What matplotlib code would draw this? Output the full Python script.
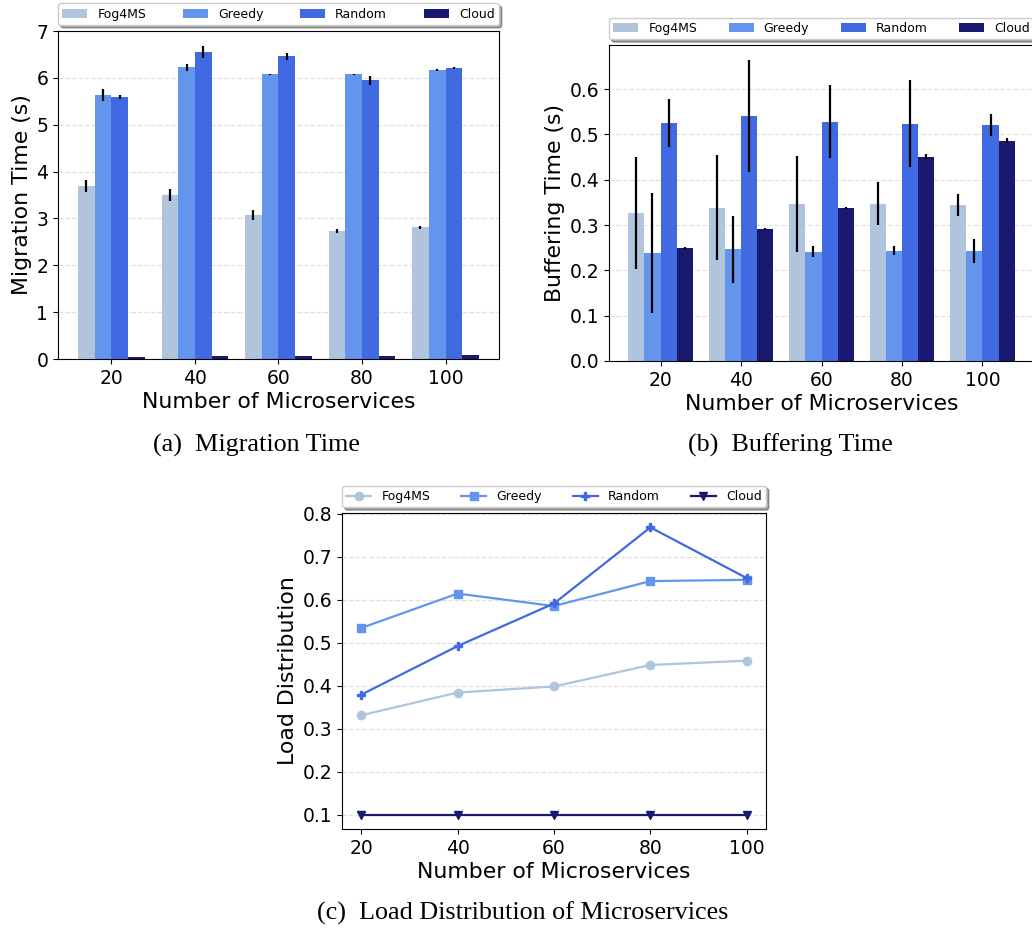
"""
Migration time, buffering time and load distribution for Fog4MS vs baselines
"""

import matplotlib.pyplot as plt
import numpy as np

plt.rcParams['font.family'] = ['DejaVu Sans']

# data
n_services = [20, 40, 60, 80, 100]
methods = ['Fog4MS', 'Greedy', 'Random', 'Cloud']
colors = ['lightsteelblue', 'cornflowerblue', 'royalblue', 'midnightblue']
markers = ['o', 's', 'P', 'v']

migration = {
    'Fog4MS': [3.69, 3.50, 3.07, 2.73, 2.81],
    'Greedy': [5.63, 6.23, 6.08, 6.08, 6.165],
    'Random': [5.59, 6.55, 6.46, 5.95, 6.21],
    'Cloud': [0.05, 0.07, 0.07, 0.07, 0.09],
}
migration_err = {
    'Fog4MS': [0.125, 0.12, 0.10, 0.045, 0.025],
    'Greedy': [0.13, 0.075, 0.01, 0.01, 0.025],
    'Random': [0.05, 0.12, 0.08, 0.10, 0.02],
    'Cloud': [0.0, 0.0, 0.0, 0.0, 0.0],
}

buffering = {
    'Fog4MS': [0.327, 0.338, 0.347, 0.347, 0.345],
    'Greedy': [0.239, 0.247, 0.241, 0.243, 0.243],
    'Random': [0.526, 0.541, 0.528, 0.524, 0.521],
    'Cloud': [0.250, 0.292, 0.338, 0.451, 0.486],
}
buffering_err = {
    'Fog4MS': [0.123, 0.116, 0.106, 0.048, 0.024],
    'Greedy': [0.132, 0.074, 0.012, 0.010, 0.026],
    'Random': [0.053, 0.123, 0.081, 0.097, 0.025],
    'Cloud': [0.002, 0.002, 0.002, 0.005, 0.005],
}

load = {
    'Fog4MS': [0.331, 0.384, 0.398, 0.448, 0.458],
    'Greedy': [0.534, 0.614, 0.585, 0.643, 0.646],
    'Random': [0.379, 0.492, 0.591, 0.768, 0.650],
    'Cloud': [0.100, 0.100, 0.100, 0.100, 0.100],
}

W, H = 1032, 933
fig = plt.figure(figsize=(W / 100, H / 100), dpi=100)


def px_axes(left, top, right, bottom):
    return fig.add_axes([left / W, 1 - bottom / H, (right - left) / W, (bottom - top) / H])


def add_legend(ax):
    ax.legend(loc='lower left', bbox_to_anchor=(0, 1.018, 1, 0.1), mode='expand',
              ncol=4, borderaxespad=0, fontsize=9, fancybox=True, shadow=True,
              handlelength=2.0, borderpad=0.35)


def style(ax):
    ax.grid(True, axis='y', linestyle='--', color='#e0e0e0', linewidth=0.9)
    ax.set_axisbelow(True)
    ax.tick_params(labelsize=13.5)
    ax.set_xlabel('Number of Microservices', fontsize=15.8, labelpad=3)


def bar_panel(ax, vals, errs, ylabel):
    x = np.arange(len(n_services))
    w = 0.2
    for k, m in enumerate(methods):
        ax.bar(x + (k - 1.5) * w, vals[m], w, yerr=errs[m], color=colors[k],
               label=m, error_kw=dict(ecolor='black', elinewidth=1.6, capsize=0))
    ax.set_xticks(x)
    ax.set_xticklabels([str(n) for n in n_services])
    ax.set_ylabel(ylabel, fontsize=15.8, labelpad=3)
    style(ax)
    add_legend(ax)


# (a) migration time
ax1 = px_axes(58, 31, 499, 359)
bar_panel(ax1, migration, migration_err, 'Migration Time (s)')
ax1.set_ylim(0, 7)

# (b) buffering time
ax2 = px_axes(609, 45, 1034, 361)
bar_panel(ax2, buffering, buffering_err, 'Buffering Time (s)')

# (c) load distribution
ax3 = px_axes(342, 513, 766, 829)
for k, m in enumerate(methods):
    ax3.plot(n_services, load[m], color=colors[k], marker=markers[k],
             markersize=6, linewidth=1.6, label=m)
ax3.set_xticks(n_services)
ax3.set_ylabel('Load Distribution', fontsize=15.8, labelpad=3)
style(ax3)
add_legend(ax3)

# captions
cap = dict(family='Liberation Serif', fontsize=18.8, ha='center', va='center')
fig.text(256 / W, 1 - 445 / H, '(a)  Migration Time', **cap)
fig.text(790 / W, 1 - 445 / H, '(b)  Buffering Time', **cap)
fig.text(523 / W, 1 - 913 / H, '(c)  Load Distribution of Microservices', **cap)

plt.savefig('out.png', dpi=100)
plt.close()
